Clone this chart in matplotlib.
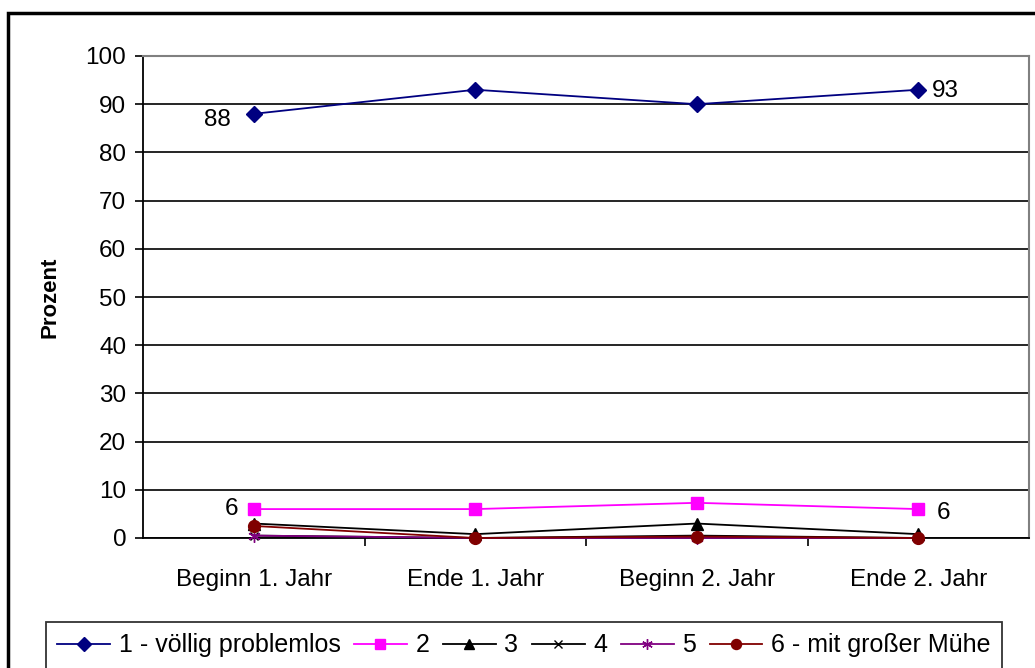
import matplotlib
matplotlib.use("Agg")
import matplotlib.pyplot as plt
from matplotlib.patches import Rectangle
import numpy as np

plt.rcParams['font.family'] = ['Liberation Sans', 'DejaVu Sans']

categories = ["Beginn 1. Jahr", "Ende 1. Jahr", "Beginn 2. Jahr", "Ende 2. Jahr"]
s1 = [88, 93, 90, 93]
s2 = [6, 6, 7.3, 6]
s3 = [3, 0.8, 3, 0.8]
s4 = [0.5, 0, 0.5, 0]
s5 = [0.5, 0, 0, 0]
s6 = [2.5, 0, 0.3, 0]
series_names = ["1 - völlig problemlos", "2", "3", "4", "5", "6 - mit großer Mühe"]

W, H = 1035, 668
FS = 17.5
fig = plt.figure(figsize=(W/100, H/100), dpi=100)
L, R, T, B = 143, 1029, 56, 538
ax = fig.add_axes([L/W, 1-B/H, (R-L)/W, (B-T)/H])

x = np.arange(len(categories))
styles = [
    (s1, '#000080', 'D', 8),
    (s2, '#FF00FF', 's', 8),
    (s3, '#000000', '^', 8),
    (s4, '#000000', 'x', 6),
    (s5, '#800080', (6, 2, 0), 9),
    (s6, '#800000', 'o', 8.5),
]
handles = []
for (vals, col, mk, ms), name in zip(styles, series_names):
    h, = ax.plot(x, vals, color=col, marker=mk, markersize=ms, linewidth=1.3,
                 markerfacecolor=col, markeredgecolor=col, label=name, clip_on=False, zorder=3)
    handles.append(h)

ax.set_xlim(-0.5, 3.5)
ax.set_ylim(0, 100)
ax.set_yticks(range(0, 101, 10))
ax.yaxis.grid(True, color='black', linewidth=1.2)
ax.set_axisbelow(True)
ax.set_xticks(x)
ax.set_xticklabels(categories, fontsize=FS)
ax.set_xticks([0.5, 1.5, 2.5], minor=True)
ax.tick_params(axis='x', which='major', length=0, pad=22)
ax.tick_params(axis='x', which='minor', length=6, width=1.2, direction='out', color='black')
ax.tick_params(axis='y', labelsize=FS, length=6, width=1.2, direction='out', pad=6)
ax.set_ylabel("Prozent", fontsize=16, fontweight='bold', labelpad=18)
for sp in ['top', 'right']:
    ax.spines[sp].set_color('#808080')
    ax.spines[sp].set_linewidth(1.5)
for sp in ['left', 'bottom']:
    ax.spines[sp].set_color('black')
    ax.spines[sp].set_linewidth(1.3)

ax.annotate(f"{s1[0]:g}", (x[0], s1[0]), xytext=(-16.5, -4.3), textcoords='offset points',
            ha='right', va='center', fontsize=FS)
ax.annotate(f"{s1[-1]:g}", (x[-1], s1[-1]), xytext=(10, -1), textcoords='offset points',
            ha='left', va='center', fontsize=FS)
ax.annotate(f"{s2[0]:g}", (x[0], s2[0]), xytext=(-11, 0), textcoords='offset points',
            ha='right', va='center', fontsize=FS)
ax.annotate(f"{s2[-1]:g}", (x[-1], s2[-1]), xytext=(13.5, -3), textcoords='offset points',
            ha='left', va='center', fontsize=FS)

leg = fig.legend(handles=handles, loc='upper center', ncol=6, fontsize=18,
                 bbox_to_anchor=(524/W, 1-622/H),
                 frameon=True, fancybox=False, edgecolor='black',
                 handlelength=2.1, handletextpad=0.35, columnspacing=0.55, borderpad=0.45,
                 borderaxespad=0, markerscale=0.85)
leg.get_frame().set_linewidth(1.3)

fig.patches.append(Rectangle((8/W, -0.1), 1.2, 1 - 13/H + 0.1, transform=fig.transFigure,
                             fill=False, edgecolor='black', linewidth=2.5))

fig.savefig("out.png", dpi=100)
